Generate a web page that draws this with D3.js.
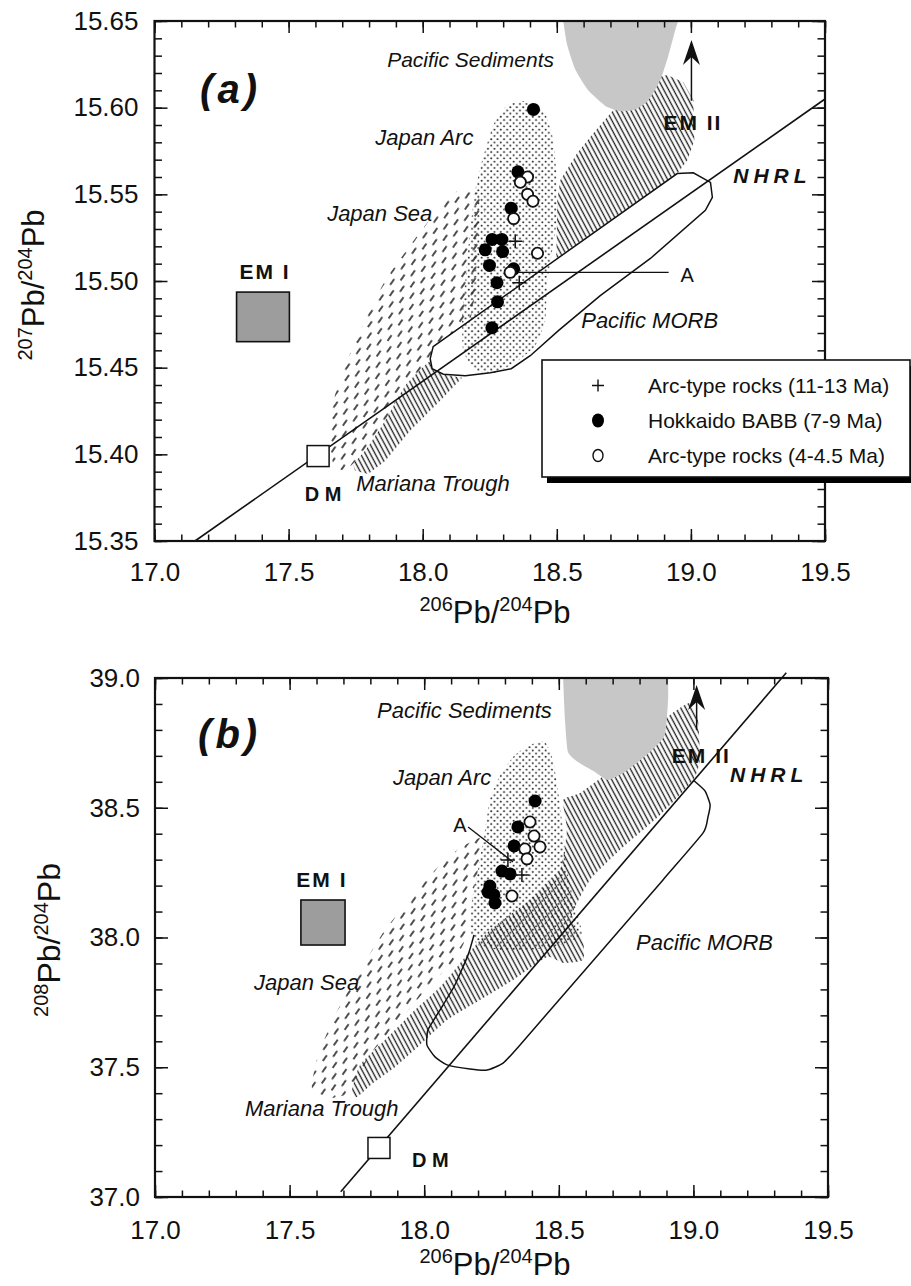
<!DOCTYPE html>
<html>
<head>
<meta charset="utf-8">
<script src="https://cdn.jsdelivr.net/npm/d3@7"></script>
<style>
  body { margin: 0; background: #fff; }
  svg { display: block; }
  text { font-family: "Liberation Sans", Arial, Helvetica, sans-serif; fill: #111; }
</style>
</head>
<body>
<div id="chart"></div>
<script>
// -DATA-
// axis ticks
const xTicks = [17.0, 17.5, 18.0, 18.5, 19.0, 19.5];
const yTicksA = [15.35, 15.40, 15.45, 15.50, 15.55, 15.60, 15.65];
const yTicksB = [37.0, 37.5, 38.0, 38.5, 39.0];

// legend
const legendLabels = ["Arc-type rocks (11-13 Ma)", "Hokkaido BABB (7-9 Ma)", "Arc-type rocks (4-4.5 Ma)"];

// panel (a) samples: 206Pb/204Pb, 207Pb/204Pb
const arcOldA = [[18.345, 15.523], [18.360, 15.499]];
const babbA = [[18.413, 15.599], [18.355, 15.563], [18.330, 15.542], [18.259, 15.524], [18.295, 15.524],
               [18.233, 15.518], [18.298, 15.517], [18.249, 15.509], [18.339, 15.507], [18.277, 15.499],
               [18.279, 15.488], [18.258, 15.473]];
const arcYoungA = [[18.391, 15.560], [18.364, 15.557], [18.391, 15.550], [18.411, 15.546], [18.339, 15.536],
                   [18.428, 15.516], [18.326, 15.505]];

// panel (b) samples: 206Pb/204Pb, 208Pb/204Pb
const arcOldB = [[18.363, 38.241], [18.311, 38.299]];
const babbB = [[18.412, 38.526], [18.348, 38.426], [18.334, 38.353], [18.289, 38.256], [18.319, 38.245],
               [18.244, 38.198], [18.259, 38.164], [18.263, 38.133], [18.237, 38.175]];
const arcYoungB = [[18.393, 38.445], [18.408, 38.391], [18.430, 38.349], [18.374, 38.341], [18.382, 38.303],
                   [18.326, 38.160]];

// end members & reference lines
const emIA = [[17.306, 15.465], [17.503, 15.4936]];
const emIB = [[17.542, 37.971], [17.706, 38.1445]];
const dmA = [17.61, 15.399];
const dmB = [17.832, 37.189];
const nhrlA = [[17.151, 15.35], [19.5, 15.605]];
const nhrlB = [[17.69, 37.02], [19.345, 39.02]];
const emIIArrowA = [[19.002, 15.604], [19.002, 15.639]];
const emIIArrowB = [[19.012, 38.80], [19.012, 38.973]];
const lineAA = [[18.357, 15.505], [18.917, 15.505]];
const lineAB = [[18.163, 38.426], [18.330, 38.291]];

// fields, panel (a)
const sedimentsA = [[18.524, 15.650], [18.539, 15.636], [18.569, 15.622], [18.617, 15.610], [18.681, 15.601],
  [18.737, 15.598], [18.793, 15.599], [18.841, 15.604], [18.886, 15.616], [18.916, 15.630], [18.942, 15.645], [18.953, 15.650]];
const marianaUpperA = [[18.860, 15.6171], [18.912, 15.6188], [18.972, 15.6147], [19.009, 15.6043], [19.013, 15.5812],
  [18.987, 15.5697], [18.950, 15.5621], [18.498, 15.5130], [18.502, 15.5465], [18.513, 15.5581], [18.576, 15.5737],
  [18.636, 15.5853], [18.711, 15.5986], [18.786, 15.6101]];
const marianaLowerA = [[18.039, 15.4621], [18.028, 15.4552], [18.035, 15.4494], [18.077, 15.4460], [18.147, 15.4442],
  [18.065, 15.4309], [17.953, 15.4136], [17.860, 15.3962], [17.797, 15.3887], [17.748, 15.3905], [17.729, 15.3991],
  [17.767, 15.4165], [17.841, 15.4338], [17.916, 15.4483], [17.991, 15.4598]];
const japanSeaA = [[18.054, 15.5408], [18.121, 15.5512], [18.177, 15.5523], [18.233, 15.5465], [18.215, 15.5118],
  [18.177, 15.4772], [18.121, 15.4627], [18.028, 15.4540], [17.935, 15.4396], [17.860, 15.4194], [17.785, 15.4020],
  [17.711, 15.3905], [17.666, 15.3951], [17.655, 15.4078], [17.662, 15.4280], [17.711, 15.4512], [17.785, 15.4772],
  [17.860, 15.5003], [17.953, 15.5205]];
const japanArcA = [[18.315, 15.6014], [18.382, 15.6038], [18.450, 15.5986], [18.483, 15.5841], [18.498, 15.5639],
  [18.502, 15.5379], [18.483, 15.5176], [18.465, 15.5003], [18.457, 15.4772], [18.420, 15.4627], [18.345, 15.4529],
  [18.271, 15.4471], [18.196, 15.4483], [18.151, 15.4598], [18.147, 15.4801], [18.159, 15.5003], [18.177, 15.5292],
  [18.196, 15.5523], [18.222, 15.5697], [18.263, 15.5899]];
const morbA = [[18.039, 15.4621], [18.949, 15.5620], [19.009, 15.5624], [19.073, 15.5569], [19.080, 15.5483],
  [19.054, 15.5408], [18.849, 15.5130], [18.662, 15.4916], [18.506, 15.4714], [18.401, 15.4569], [18.330, 15.4494],
  [18.252, 15.4471], [18.159, 15.4454], [18.077, 15.4462], [18.035, 15.4494], [18.028, 15.4552]];

// fields, panel (b)
const sedimentsB = [[18.516, 39.0], [18.523, 38.838], [18.534, 38.715], [18.571, 38.676], [18.634, 38.638],
  [18.683, 38.607], [18.746, 38.638], [18.839, 38.715], [18.894, 38.780], [18.906, 38.915], [18.906, 39.0]];
const marianaB = [[18.939, 38.877], [18.988, 38.904], [19.017, 38.838], [19.024, 38.684], [18.999, 38.607],
  [18.876, 38.472], [18.727, 38.337], [18.616, 38.222], [18.549, 38.087], [18.590, 37.990], [18.590, 37.913],
  [18.516, 37.902], [18.456, 37.925], [18.330, 37.836], [18.207, 37.759], [18.085, 37.682], [17.984, 37.586],
  [17.892, 37.501], [17.810, 37.439], [17.750, 37.385], [17.732, 37.412], [17.762, 37.509], [17.873, 37.624],
  [17.958, 37.713], [18.059, 37.809], [18.159, 37.933], [18.244, 38.029], [18.393, 38.145], [18.504, 38.260],
  [18.530, 38.414], [18.516, 38.530], [18.579, 38.557], [18.679, 38.634], [18.776, 38.734], [18.887, 38.838]];
const japanSeaB = [[18.133, 38.345], [18.237, 38.395], [18.252, 38.299], [18.207, 38.145], [18.170, 38.029],
  [18.114, 37.913], [18.022, 37.817], [17.910, 37.682], [17.799, 37.547], [17.724, 37.405], [17.650, 37.382],
  [17.583, 37.420], [17.606, 37.547], [17.669, 37.701], [17.762, 37.875], [17.854, 38.029], [17.947, 38.145],
  [18.040, 38.260]];
const japanArcB = [[18.393, 38.742], [18.449, 38.753], [18.478, 38.684], [18.497, 38.568], [18.516, 38.414],
  [18.530, 38.260], [18.560, 38.125], [18.586, 38.010], [18.504, 37.971], [18.393, 37.952], [18.282, 37.952],
  [18.200, 37.971], [18.170, 38.029], [18.178, 38.145], [18.200, 38.260], [18.226, 38.414], [18.244, 38.530],
  [18.282, 38.626], [18.337, 38.703]];
const morbB = [[18.185, 38.010], [18.163, 37.933], [18.114, 37.817], [18.059, 37.721], [18.014, 37.644],
  [18.010, 37.586], [18.040, 37.540], [18.085, 37.509], [18.170, 37.493], [18.233, 37.489], [18.293, 37.516],
  [18.356, 37.586], [18.887, 38.222], [19.036, 38.403], [19.054, 38.464], [19.062, 38.511], [19.043, 38.565],
  [18.999, 38.607]];

// -SVG-
const W = 911, H = 1286;
const svg = d3.select("#chart").append("svg").attr("width", W).attr("height", H);
const defs = svg.append("defs");

// fill patterns
const dots = defs.append("pattern").attr("id", "dots").attr("patternUnits", "userSpaceOnUse")
  .attr("width", 6.4).attr("height", 6.4);
dots.append("circle").attr("cx", 1.6).attr("cy", 1.6).attr("r", 1.0).attr("fill", "#222");
dots.append("circle").attr("cx", 4.8).attr("cy", 4.8).attr("r", 1.0).attr("fill", "#222");

// short "/" dashes laid out in a staggered lattice
const dash = defs.append("pattern").attr("id", "dash").attr("patternUnits", "userSpaceOnUse")
  .attr("width", 12).attr("height", 19).attr("patternTransform", "rotate(35)");
dash.append("path").attr("d", "M3,3V9M9,12.5V18.5")
  .attr("stroke", "#222").attr("stroke-width", 1.6).attr("stroke-linecap", "round");

const hatch = defs.append("pattern").attr("id", "hatch").attr("patternUnits", "userSpaceOnUse")
  .attr("width", 4.3).attr("height", 10).attr("patternTransform", "rotate(-28)");
hatch.append("line").attr("x1", 2.1).attr("x2", 2.1).attr("y1", -1).attr("y2", 11)
  .attr("stroke", "#222").attr("stroke-width", 1.35);

const fontMain = '"Liberation Sans", Arial, Helvetica, sans-serif';

// -PANEL DRAWING-
function drawPanel(p) {
  const { x, y } = p;
  const g = svg.append("g");
  const line = d3.line().x(d => x(d[0])).y(d => y(d[1]));
  const closed = d3.line().x(d => x(d[0])).y(d => y(d[1])).curve(d3.curveLinearClosed);
  const smoothClosed = d3.line().x(d => x(d[0])).y(d => y(d[1])).curve(d3.curveCardinalClosed.tension(0.5));
  const smooth = d3.line().x(d => x(d[0])).y(d => y(d[1])).curve(d3.curveCardinal.tension(0.5));

  // fields
  p.hatchFirst.forEach(h => g.append("path").attr("d", closed(h)).attr("fill", "url(#hatch)"));
  g.append("path").attr("d", smoothClosed(p.japanSea)).attr("fill", "#fff");
  g.append("path").attr("d", smoothClosed(p.japanSea)).attr("fill", "url(#dash)");
  if (p.morbClosed) {
    g.append("path").attr("d", closed(p.morb)).attr("fill", "#fff");
  }
  g.append("path").attr("d", smoothClosed(p.japanArc)).attr("fill", p.arcWhite ? "#fff" : "none");
  g.append("path").attr("d", smoothClosed(p.japanArc)).attr("fill", "url(#dots)");
  p.hatchLast.forEach(h => g.append("path").attr("d", smoothClosed(h)).attr("fill", "url(#hatch)"));
  g.append("path").attr("d", p.morbClosed ? closed(p.morb) : smooth(p.morb))
    .attr("fill", "none").attr("stroke", "#111").attr("stroke-width", 1.5);
  g.append("path").attr("d", smooth(p.sediments)).attr("fill", "#c7c7c7");

  // NHRL
  g.append("path").attr("d", line(p.nhrl)).attr("stroke", "#111").attr("stroke-width", 1.6).attr("fill", "none");

  // EM I box
  g.append("rect").attr("x", x(p.emI[0][0])).attr("y", y(p.emI[1][1]))
    .attr("width", x(p.emI[1][0]) - x(p.emI[0][0])).attr("height", y(p.emI[0][1]) - y(p.emI[1][1]))
    .attr("fill", "#9d9d9d").attr("stroke", "#111").attr("stroke-width", 1.6);

  // DM box
  g.append("rect").attr("x", x(p.dm[0]) - 11).attr("y", y(p.dm[1]) - 10.5).attr("width", 22).attr("height", 21)
    .attr("fill", "#fff").attr("stroke", "#111").attr("stroke-width", 1.5);

  // EM II arrow (shaft + head)
  const ax = x(p.arrow[0][0]), ay0 = y(p.arrow[0][1]), ay1 = y(p.arrow[1][1]);
  g.append("line").attr("x1", ax).attr("x2", ax).attr("y1", ay0).attr("y2", ay1 + 16)
    .attr("stroke", "#111").attr("stroke-width", 1.5);
  g.append("path").attr("d", `M${ax},${ay1}L${ax + 8.5},${ay1 + 25}L${ax},${ay1 + 17}L${ax - 8.5},${ay1 + 25}Z`)
    .attr("fill", "#111");

  // line to A
  g.append("path").attr("d", line(p.lineA)).attr("stroke", "#111").attr("stroke-width", 1.3);

  // samples
  g.selectAll(".babb").data(p.babb).join("circle").attr("class", "babb")
    .attr("cx", d => x(d[0])).attr("cy", d => y(d[1])).attr("r", 6.5).attr("fill", "#000");
  g.selectAll(".young").data(p.young).join("circle").attr("class", "young")
    .attr("cx", d => x(d[0])).attr("cy", d => y(d[1])).attr("r", 5.6)
    .attr("fill", "#fff").attr("stroke", "#111").attr("stroke-width", 1.8);
  g.selectAll(".old").data(p.old).join("path").attr("class", "old")
    .attr("d", d => `M${x(d[0]) - 7},${y(d[1])}H${x(d[0]) + 7}M${x(d[0])},${y(d[1]) - 7}V${y(d[1]) + 7}`)
    .attr("stroke", "#111").attr("stroke-width", 1.5);

  // labels
  p.labels.forEach(l => {
    const t = g.append("text").attr("x", x(l.at[0])).attr("y", y(l.at[1])).text(l.text)
      .attr("font-size", l.size || 22).attr("text-anchor", l.anchor || "start");
    if (l.italic) t.attr("font-style", "italic");
    if (l.bold) t.attr("font-weight", "bold");
    if (l.spacing) t.attr("letter-spacing", l.spacing);
  });

  // axes - inner ticks on all four sides
  const [x0, x1] = x.range();
  const [yb, yt] = y.range();
  const xMinor = d3.range(17, 19.501, 0.1);
  const axes = [
    [d3.axisBottom(x).tickValues(xTicks).tickSize(-12).tickPadding(p.padX).tickFormat(d3.format(".1f")), `translate(0,${yb})`],
    [d3.axisBottom(x).tickValues(xMinor).tickSize(-6.5).tickFormat(""), `translate(0,${yb})`],
    [d3.axisTop(x).tickValues(xTicks).tickSize(-12).tickFormat(""), `translate(0,${yt})`],
    [d3.axisTop(x).tickValues(xMinor).tickSize(-6.5).tickFormat(""), `translate(0,${yt})`],
    [d3.axisLeft(y).tickValues(p.yTicks).tickSize(-13).tickPadding(p.padY).tickFormat(d3.format(p.yFmt)), `translate(${x0},0)`],
    [d3.axisLeft(y).tickValues(p.yMinor).tickSize(-7.5).tickFormat(""), `translate(${x0},0)`],
    [d3.axisRight(y).tickValues(p.yTicks).tickSize(-13).tickFormat(""), `translate(${x1},0)`],
    [d3.axisRight(y).tickValues(p.yMinor).tickSize(-7.5).tickFormat(""), `translate(${x1},0)`]
  ];
  axes.forEach(([ax, tr]) => {
    const a = g.append("g").attr("transform", tr).call(ax);
    a.select(".domain").remove();
    a.selectAll("line").attr("stroke", "#111").attr("stroke-width", 1.5);
    a.attr("font-size", 26).attr("font-family", fontMain);
    a.selectAll("text").attr("fill", "#111");
  });
  g.append("rect").attr("x", x0).attr("y", yt).attr("width", x1 - x0).attr("height", yb - yt)
    .attr("fill", "none").attr("stroke", "#111").attr("stroke-width", 2.2);

  // axis titles
  const xt = g.append("text").attr("x", p.xTitle[0]).attr("y", p.xTitle[1]).attr("text-anchor", "middle").attr("font-size", 31);
  xt.append("tspan").text("206").attr("font-size", 20).attr("dy", -12);
  xt.append("tspan").text("Pb/").attr("dy", 12);
  xt.append("tspan").text("204").attr("font-size", 20).attr("dy", -12);
  xt.append("tspan").text("Pb").attr("dy", 12);

  const yTitle = g.append("text").attr("transform", `translate(${p.yTitle[0]},${p.yTitle[1]}) rotate(-90)`)
    .attr("text-anchor", "middle").attr("font-size", p.yTitleSize);
  yTitle.append("tspan").text(p.yIso).attr("font-size", 20).attr("dy", -12);
  yTitle.append("tspan").text("Pb/").attr("dy", 12);
  yTitle.append("tspan").text("204").attr("font-size", 20).attr("dy", -12);
  yTitle.append("tspan").text("Pb").attr("dy", 12);
}

drawPanel({
  x: d3.scaleLinear().domain([17, 19.5]).range([154.5, 825]),
  y: d3.scaleLinear().domain([15.35, 15.65]).range([541, 21]),
  yTicks: yTicksA, yMinor: d3.range(15.35, 15.6501, 0.01), yFmt: ".2f",
  padX: 22, padY: 16,
  hatchFirst: [marianaUpperA, marianaLowerA], hatchLast: [],
  japanSea: japanSeaA, japanArc: japanArcA, arcWhite: false,
  morb: morbA, morbClosed: true, sediments: sedimentsA,
  nhrl: nhrlA, emI: emIA, dm: dmA, arrow: emIIArrowA, lineA: lineAA,
  babb: babbA, young: arcYoungA, old: arcOldA,
  xTitle: [495, 623], yTitle: [44, 285], yTitleSize: 31, yIso: "207",
  labels: [
    { text: "(a)", at: [17.170, 15.6026], size: 40, bold: true, italic: true, spacing: 4 },
    { text: "Pacific Sediments", at: [17.8675, 15.6234], italic: true, size: 21 },
    { text: "Japan Arc", at: [17.8228, 15.5783], italic: true },
    { text: "Japan Sea", at: [17.6437, 15.5344], italic: true },
    { text: "EM I", at: [17.412, 15.5014], bold: true, anchor: "middle", size: 21, spacing: 2 },
    { text: "EM II", at: [18.8974, 15.587], bold: true, size: 21, spacing: 2 },
    { text: "NHRL", at: [19.158, 15.5564], bold: true, italic: true, size: 21, spacing: 5 },
    { text: "Pacific MORB", at: [18.591, 15.4731], italic: true },
    { text: "D M", at: [17.6287, 15.3731], bold: true, anchor: "middle", size: 20 },
    { text: "Mariana Trough", at: [17.7519, 15.3789], italic: true },
    { text: "A", at: [18.961, 15.4997], size: 20 }
  ]
});

drawPanel({
  x: d3.scaleLinear().domain([17, 19.5]).range([155, 828]),
  y: d3.scaleLinear().domain([37, 39]).range([1197, 678]),
  yTicks: yTicksB, yMinor: d3.range(37, 39.001, 0.1), yFmt: ".1f",
  padX: 24, padY: 15,
  hatchFirst: [], hatchLast: [marianaB],
  japanSea: japanSeaB, japanArc: japanArcB, arcWhite: true,
  morb: morbB, morbClosed: false, sediments: sedimentsB,
  nhrl: nhrlB, emI: emIB, dm: dmB, arrow: emIIArrowB, lineA: lineAB,
  babb: babbB, young: arcYoungB, old: arcOldB,
  xTitle: [495, 1275], yTitle: [60, 940], yTitleSize: 32, yIso: "208",
  labels: [
    { text: "(b)", at: [17.160, 38.730], size: 40, bold: true, italic: true, spacing: 4 },
    { text: "Pacific Sediments", at: [17.8247, 38.846], italic: true },
    { text: "Japan Arc", at: [17.884, 38.588], italic: true },
    { text: "A", at: [18.133, 38.407], size: 20, anchor: "middle" },
    { text: "EM I", at: [17.620, 38.195], bold: true, anchor: "middle", size: 21, spacing: 2 },
    { text: "EM II", at: [18.920, 38.672], bold: true, size: 21, spacing: 2 },
    { text: "NHRL", at: [19.136, 38.599], bold: true, italic: true, size: 21, spacing: 5 },
    { text: "Japan Sea", at: [17.368, 37.798], italic: true },
    { text: "Pacific MORB", at: [18.787, 37.952], italic: true },
    { text: "Mariana Trough", at: [17.334, 37.312], italic: true },
    { text: "D M", at: [17.955, 37.116], bold: true, size: 20 }
  ]
});

// -LEGEND- (panel a)
const legend = svg.append("g").attr("id", "legend").attr("transform", "translate(542,360)");
legend.append("rect").attr("x", 5).attr("y", 6).attr("width", 368).attr("height", 117).attr("fill", "#000");
legend.append("rect").attr("x", 0).attr("y", 0).attr("width", 368).attr("height", 117)
  .attr("fill", "#fff").attr("stroke", "#111").attr("stroke-width", 1.6);
const legY = d3.scaleBand().domain(legendLabels).range([8, 113]);
legendLabels.forEach((lab, i) => {
  const cy = legY(lab) + legY.bandwidth() / 2;
  if (i === 0) {
    legend.append("path").attr("d", `M50,${cy}H62M56,${cy - 6}V${cy + 6}`).attr("stroke", "#111").attr("stroke-width", 1.4);
  } else if (i === 1) {
    legend.append("ellipse").attr("cx", 56).attr("cy", cy).attr("rx", 6).attr("ry", 7).attr("fill", "#000");
  } else {
    legend.append("ellipse").attr("cx", 56).attr("cy", cy).attr("rx", 5).attr("ry", 6)
      .attr("fill", "#fff").attr("stroke", "#111").attr("stroke-width", 1.4);
  }
  legend.append("text").attr("x", 106).attr("y", cy + 7.5).attr("font-size", 21).text(lab);
});
</script>
</body>
</html>
